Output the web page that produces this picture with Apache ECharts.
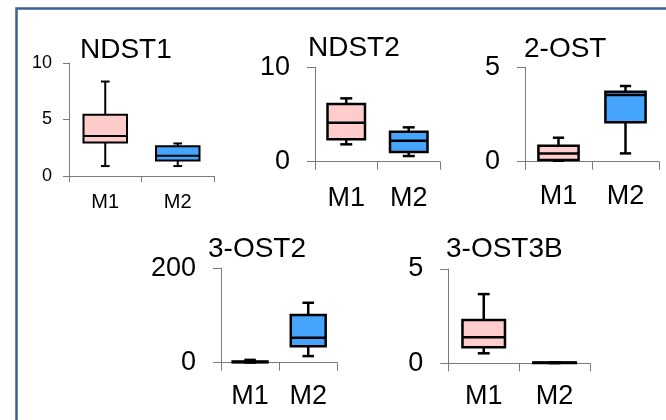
<!DOCTYPE html>
<html>
<head>
<meta charset="utf-8">
<script src="https://cdn.jsdelivr.net/npm/echarts@6/dist/echarts.min.js"></script>
<style>
  html, body { margin: 0; padding: 0; background: #fff; }
  #chart { width: 666px; height: 420px; }
</style>
</head>
<body>
<div id="chart"></div>
<script>
// Group names shown on every x axis
const categories = ['M1', 'M2'];

// Five-number summaries per group: [min, Q1, median, Q3, max]
const ndst1 = [[0.88, 2.96, 3.55, 5.43, 8.36], [0.88, 1.38, 1.79, 2.64, 2.88]];
const ndst2 = [[1.84, 2.37, 4.13, 6.11, 6.71], [0.6, 1.03, 2.22, 3.18, 3.64]];
const ost2 = [[0.05, 0.09, 0.44, 0.85, 1.27], [0.44, 2.09, 3.53, 3.71, 4.01]];
const ost3_2 = [[0.5, 1, 1.5, 2.5, 6], [14, 35, 53, 101, 127]];
const ost3_3b = [[0.53, 0.85, 1.38, 2.3, 3.67], [0.01, 0.02, 0.03, 0.04, 0.05]];

// Panel titles and y-axis ranges
const titles = ['NDST1', 'NDST2', '2-OST', '3-OST2', '3-OST3B'];
const yMax = [10, 10, 5, 200, 5];
const yStep = [5, 10, 5, 200, 5];

const panelData = [ndst1, ndst2, ost2, ost3_2, ost3_3b];

// Placement and sizing of each small chart
const layout = [
  { left: 69,  top: 63,   width: 145,   height: 113,  titleX: 80,  titleY: 36,  tfs: 28, yfs: 18, xfs: 20, tick: 6, ym: 17, xm: 16, cap: 0.2,  lw: 2 },
  { left: 315, top: 67.3, width: 125,   height: 94.4, titleX: 308, titleY: 34,  tfs: 28, yfs: 27, xfs: 27, tick: 8, ym: 25, xm: 23, cap: 0.32, lw: 2.5 },
  { left: 525, top: 67.3, width: 134,   height: 94.4, titleX: 524, titleY: 35,  tfs: 28, yfs: 27, xfs: 27, tick: 8, ym: 25, xm: 21.5, cap: 0.28, lw: 2.5 },
  { left: 221, top: 268.3, width: 116.3, height: 94.4, titleX: 208, titleY: 235, tfs: 28, yfs: 27, xfs: 27, tick: 8, ym: 25, xm: 20.5, cap: 0.33, lw: 2.5 },
  { left: 448.3, top: 269, width: 141.7, height: 94.3, titleX: 446, titleY: 235, tfs: 28, yfs: 27, xfs: 27, tick: 8, ym: 25, xm: 20, cap: 0.28, lw: 2.5 }
];

const boxColors = ['#ffcccc', '#45a5fc'];
const axisGray = '#7a7a7a';
const font = '"Liberation Sans", Arial, sans-serif';

function boxRenderer(capFrac, lw) {
  return function (params, api) {
    const i = api.value(0);
    const lo = api.coord([i, api.value(1)]);
    const q1 = api.coord([i, api.value(2)]);
    const md = api.coord([i, api.value(3)]);
    const q3 = api.coord([i, api.value(4)]);
    const hi = api.coord([i, api.value(5)]);
    const band = api.size([1, 0])[0];
    const w = band * 0.6;
    const cw = w * capFrac;
    const x = lo[0];
    const line = { stroke: '#000', lineWidth: lw };
    return {
      type: 'group',
      children: [
        { type: 'line', shape: { x1: x, y1: hi[1], x2: x, y2: lo[1] }, style: line },
        { type: 'line', shape: { x1: x - cw / 2, y1: hi[1], x2: x + cw / 2, y2: hi[1] }, style: line },
        { type: 'line', shape: { x1: x - cw / 2, y1: lo[1], x2: x + cw / 2, y2: lo[1] }, style: line },
        { type: 'rect', shape: { x: x - w / 2, y: q3[1], width: w, height: q1[1] - q3[1] },
          style: { fill: boxColors[i], stroke: '#000', lineWidth: lw } },
        { type: 'line', shape: { x1: x - w / 2, y1: md[1], x2: x + w / 2, y2: md[1] }, style: line }
      ]
    };
  };
}

const option = {
  animation: false,
  backgroundColor: '#fff',
  textStyle: { fontFamily: font },
  title: layout.map((p, k) => ({
    text: titles[k],
    left: p.titleX,
    top: p.titleY,
    padding: 0,
    textStyle: { fontFamily: font, fontSize: p.tfs, fontWeight: 'normal', color: '#000', lineHeight: p.tfs }
  })),
  grid: layout.map(p => ({ left: p.left, top: p.top, width: p.width, height: p.height, containLabel: false })),
  xAxis: layout.map((p, k) => ({
    type: 'category',
    gridIndex: k,
    data: categories,
    boundaryGap: true,
    axisLine: { show: true, lineStyle: { color: axisGray, width: 1 } },
    axisTick: { show: true, length: p.tick, interval: 0, alignWithLabel: false, lineStyle: { color: axisGray } },
    axisLabel: { margin: p.xm, fontSize: p.xfs, color: '#000', fontFamily: font, lineHeight: p.xfs, interval: 0 },
    splitLine: { show: false }
  })),
  yAxis: layout.map((p, k) => ({
    type: 'value',
    gridIndex: k,
    min: 0,
    max: yMax[k],
    interval: yStep[k],
    axisLine: { show: true, lineStyle: { color: axisGray, width: 1 } },
    axisTick: { show: true, length: p.tick, lineStyle: { color: axisGray } },
    axisLabel: { margin: p.ym, fontSize: p.yfs, color: '#000', fontFamily: font },
    splitLine: { show: false }
  })),
  series: layout.map((p, k) => ({
    type: 'custom',
    xAxisIndex: k,
    yAxisIndex: k,
    silent: true,
    clip: false,
    renderItem: boxRenderer(p.cap, p.lw),
    encode: { x: 0, y: [1, 2, 3, 4, 5] },
    data: panelData[k].map((s, i) => [i].concat(s))
  })),
  graphic: [{
    type: 'rect',
    silent: true,
    z: 100,
    shape: { x: 16.5, y: 8.5, width: 720, height: 500 },
    style: { fill: 'none', stroke: '#3d6194', lineWidth: 2.5 }
  }]
};

const chart = echarts.init(document.getElementById('chart'), null, { renderer: 'canvas' });
chart.setOption(option);
</script>
</body>
</html>
